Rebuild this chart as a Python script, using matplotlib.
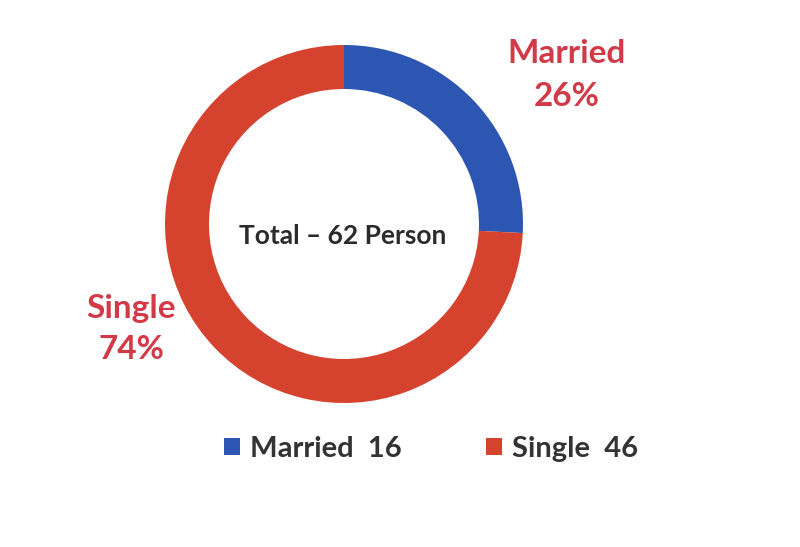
import matplotlib.pyplot as plt

labels = ["Married", "Single"]
counts = [16, 46]
colors = ["#2c56b2", "#d5432f"]
total_text = "Total \u2013 62 Person"

plt.rcParams['font.family'] = ['Lato', 'DejaVu Sans']

fig = plt.figure(figsize=(8, 5.47), dpi=100)
ax = fig.add_axes([0, 0, 1, 1])

wedges, _ = ax.pie(counts, colors=colors, startangle=90, counterclock=False,
                   center=(344, 323), radius=179,
                   wedgeprops=dict(width=44, linewidth=0))
ax.set_xlim(0, 800)
ax.set_ylim(0, 547)
ax.set_aspect('equal')
ax.axis('off')

tot = sum(counts)
pcts = [round(c / tot * 100) for c in counts]

lab_col = "#d23a48"
ax.text(567, 547 - 75, f"{labels[0]}\n{pcts[0]}%", ha='center', va='center',
        fontsize=24, fontweight='bold', color=lab_col, linespacing=1.55)
ax.text(131, 547 - 329, f"{labels[1]}\n{pcts[1]}%", ha='center', va='center',
        fontsize=24, fontweight='bold', color=lab_col, linespacing=1.5)

ax.text(343, 547 - 236, total_text, ha='center', va='center',
        fontsize=19, fontweight='bold', color="#2b2b2b")

leg = ax.legend(wedges, [f"{l}  {c}" for l, c in zip(labels, counts)],
                loc='center', bbox_to_anchor=(431 / 800, 1 - 449 / 547),
                ncol=2, frameon=False, fontsize=21, handlelength=0.55,
                handleheight=0.55, handletextpad=0.35, columnspacing=2.9)
for t in leg.get_texts():
    t.set_color("#333333")
    t.set_fontweight('bold')

fig.savefig("out.png", dpi=100)
